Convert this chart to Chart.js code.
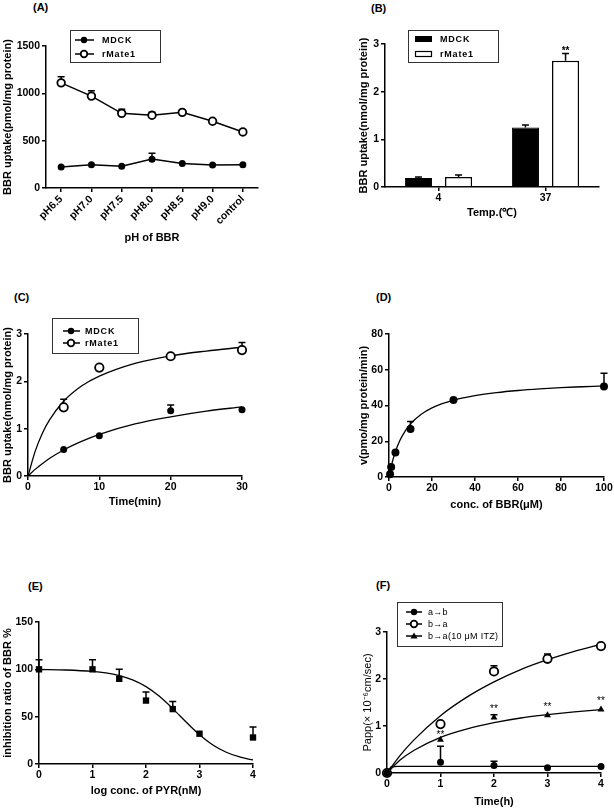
<!DOCTYPE html>
<html>
<head>
<meta charset="UTF-8">
<title>BBR uptake panels</title>
<script src="https://cdn.jsdelivr.net/npm/chart.js"></script>
<style>
  body { margin: 0; background: #fff; }
  #fig { position: relative; width: 614px; height: 809px; overflow: hidden; background: #fff;
         font-family: "Liberation Sans", Arial, sans-serif; }
  canvas { position: absolute; }
  .tag { position: absolute; font-size: 11px; line-height: 12px; font-weight: bold; color: #000; }
</style>
</head>
<body>
<div id="fig">
  <div class="tag" style="left:33px;top:1px">(A)</div>
  <div class="tag" style="left:371px;top:2px">(B)</div>
  <div class="tag" style="left:14px;top:291px">(C)</div>
  <div class="tag" style="left:376px;top:291px">(D)</div>
  <div class="tag" style="left:28px;top:580px">(E)</div>
  <div class="tag" style="left:376px;top:579px">(F)</div>
  <canvas id="chA"></canvas>
  <canvas id="chB"></canvas>
  <canvas id="chC"></canvas>
  <canvas id="chD"></canvas>
  <canvas id="chE"></canvas>
  <canvas id="chF"></canvas>
</div>
<script>
// (A) uptake vs pH
const phLabels = ['pH6.5', 'pH7.0', 'pH7.5', 'pH8.0', 'pH8.5', 'pH9.0', 'control'];
const phMdck = [221, 245, 231, 305, 259, 242, 245];
const phMdckErr = [0, 0, 0, 63, 0, 0, 0];
const phMate = [1111, 971, 789, 768, 799, 705, 592];
const phMateErr = [63, 56, 42, 31, 0, 0, 25];

// (B) uptake vs temperature
const tempLabels = ['4', '37'];
const tempMdck = [0.19, 1.25];
const tempMdckErr = [0.02, 0.05];
const tempMate = [0.21, 2.65];
const tempMateErr = [0.04, 0.15];
const tempStarAt = [null, 2.88];

// (C) uptake vs time
const timeMin = [5, 10, 20, 30];
const timeMdck = [0.56, 0.85, 1.38, 1.40];
const timeMdckErr = [0, 0, 0.12, 0];
const timeMate = [1.45, 2.29, 2.53, 2.66];
const timeMateErr = [0.17, 0, 0, 0.16];
const fitTime = [0, 1, 2, 3, 5, 7.5, 10, 15, 20, 25, 30];
const fitTimeMdck = [0, 0.14, 0.26, 0.37, 0.55, 0.73, 0.88, 1.10, 1.25, 1.37, 1.46];
const fitTimeMate = [0, 0.52, 0.90, 1.18, 1.58, 1.90, 2.11, 2.38, 2.54, 2.64, 2.72];

// (D) kinetics
const concBBR = [0.5, 1, 3, 10, 30, 100];
const velocity = [1.5, 5.6, 13.7, 26.8, 43.1, 50.6];
const velocityErr = [0, 0, 0, 4.2, 0, 7.4];
const fitConc = [0, 1, 2, 3, 5, 7.5, 10, 15, 20, 30, 40, 50, 60, 70, 80, 90, 100];
const fitVelocity = [0, 5.7, 10.4, 14.3, 20.3, 25.7, 29.7, 35.1, 38.7, 43.0, 45.5, 47.2, 48.4, 49.3, 50.0, 50.5, 51.0];

// (E) inhibition by PYR
const logPyr = [0, 1, 1.5, 2, 2.5, 3, 4];
const inhib = [100, 100, 90, 67, 58, 32, 28];
const inhibErr = [10, 10, 10, 9, 8, 0, 11];
const fitLog = [0, 0.5, 1, 1.25, 1.5, 1.75, 2, 2.25, 2.5, 2.75, 3, 3.25, 3.5, 3.75, 4];
const fitInhib = [99.8, 99.3, 97.8, 96.2, 93.4, 88.8, 81.7, 71.5, 58.5, 44.3, 30.9, 20.1, 12.4, 7.4, 4.3];

// (F) transport
const hours = [0, 1, 2, 3, 4];
const papAB = [0, 0.23, 0.16, 0.11, 0.14];
const papABErr = [0, 0.34, 0.09, 0, 0];
const papBA = [0, 1.04, 2.16, 2.43, 2.70];
const papBAErr = [0, 0, 0.12, 0.10, 0];
const papITZ = [0, 0.71, 1.18, 1.23, 1.35];
const papITZErr = [0, 0, 0.06, 0, 0];
const papStarAt = [null, 0.85, 1.40, 1.45, 1.56];
const fitHours = [0, 0.25, 0.5, 1, 1.5, 2, 2.5, 3, 3.5, 4];
const fitBA = [0, 0.38, 0.70, 1.22, 1.62, 1.94, 2.20, 2.41, 2.59, 2.74];
const fitITZ = [0, 0.28, 0.48, 0.76, 0.94, 1.07, 1.17, 1.24, 1.30, 1.35];
const fitABHours = [0, 0.08, 0.2, 4];
const fitAB = [0, 0.13, 0.14, 0.14];

const FONT = '"Liberation Sans", Arial, sans-serif';
Chart.defaults.font.family = FONT;
Chart.defaults.color = '#000';

const xy = (xs, ys) => xs.map((x, i) => ({ x: x, y: ys[i] }));

// legends drawn by hand (page coordinates)
const legends = {
  chA: { box: [70, 30, 160, 62], line: [75, 94], mx: 84, tx: 102, bold: true,
         items: [{ y: 40, text: 'MDCK', mark: 'dot' }, { y: 54, text: 'rMate1', mark: 'ring' }] },
  chB: { box: [408, 30, 498, 62], line: [415, 432], tx: 440, bold: true,
         items: [{ y: 39, text: 'MDCK', mark: 'fill' }, { y: 54, text: 'rMate1', mark: 'hollow' }] },
  chC: { box: [52, 318, 138, 353], line: [63, 80], mx: 71, tx: 85, bold: true,
         items: [{ y: 331, text: 'MDCK', mark: 'dot' }, { y: 343, text: 'rMate1', mark: 'ring' }] },
  chF: { box: [397, 602, 502, 646], line: [406, 422], mx: 414, tx: 428, bold: false,
         items: [{ y: 612, text: 'a→b', mark: 'dot' }, { y: 624, text: 'b→a', mark: 'ring' },
                 { y: 636, text: 'b→a(10 μM ITZ)', mark: 'tri' }] }
};

function drawMark(ctx, kind, x, y) {
  ctx.save();
  ctx.fillStyle = '#000';
  ctx.strokeStyle = '#000';
  ctx.beginPath();
  if (kind === 'dot') {
    ctx.arc(x, y, 3.2, 0, Math.PI * 2); ctx.fill();
  } else if (kind === 'ring') {
    ctx.lineWidth = 1.8;
    ctx.arc(x, y, 3.3, 0, Math.PI * 2);
    ctx.fillStyle = '#fff'; ctx.fill(); ctx.stroke();
  } else if (kind === 'tri') {
    ctx.moveTo(x, y - 3.6); ctx.lineTo(x + 3.6, y + 2.4); ctx.lineTo(x - 3.6, y + 2.4);
    ctx.closePath(); ctx.fill();
  }
  ctx.restore();
}

const marks = {
  id: 'marks',
  beforeDatasetsDraw(chart) {
    const ctx = chart.ctx;
    chart.data.datasets.forEach((ds, i) => {
      if (!ds.errUp) return;
      const meta = chart.getDatasetMeta(i);
      const ys = chart.scales[meta.yAxisID];
      ctx.save();
      ctx.strokeStyle = '#000';
      ctx.lineWidth = 1.5;
      meta.data.forEach((el, j) => {
        const e = ds.errUp[j];
        if (!e) return;
        const raw = ds.data[j];
        const v = typeof raw === 'object' ? raw.y : raw;
        const y0 = ys.getPixelForValue(v), y1 = ys.getPixelForValue(v + e);
        ctx.beginPath();
        ctx.moveTo(el.x, y0); ctx.lineTo(el.x, y1);
        ctx.moveTo(el.x - 3.5, y1); ctx.lineTo(el.x + 3.5, y1);
        ctx.stroke();
      });
      ctx.restore();
    });
  },
  afterDatasetsDraw(chart) {
    const ctx = chart.ctx;
    chart.data.datasets.forEach((ds, i) => {
      if (!ds.stars) return;
      const meta = chart.getDatasetMeta(i);
      const ys = chart.scales[meta.yAxisID];
      ctx.save();
      ctx.fillStyle = '#000';
      ctx.font = (ds.starBold ? 'bold ' : '') + '10px ' + FONT;
      ctx.textAlign = 'center';
      ctx.textBaseline = 'middle';
      meta.data.forEach((el, j) => {
        const s = ds.stars[j];
        if (s === null || s === undefined) return;
        ctx.fillText('**', el.x, ys.getPixelForValue(s) + 2);
      });
      ctx.restore();
    });
  },
  afterDraw(chart) {
    const lg = legends[chart.canvas.id];
    if (!lg) return;
    const ctx = chart.ctx;
    const ox = chart.canvas.offsetLeft, oy = chart.canvas.offsetTop;
    ctx.save();
    ctx.translate(-ox, -oy);
    ctx.strokeStyle = '#333';
    ctx.lineWidth = 1;
    ctx.strokeRect(lg.box[0] + 0.5, lg.box[1] + 0.5, lg.box[2] - lg.box[0], lg.box[3] - lg.box[1]);
    lg.items.forEach(it => {
      ctx.strokeStyle = '#000';
      if (it.mark === 'fill' || it.mark === 'hollow') {
        const w = lg.line[1] - lg.line[0];
        if (it.mark === 'fill') {
          ctx.fillStyle = '#000';
          ctx.fillRect(lg.line[0], it.y - 3, w, 6);
        } else {
          ctx.lineWidth = 1.2;
          ctx.strokeRect(lg.line[0] + 0.5, it.y - 2.5, w - 1, 5);
        }
      } else {
        ctx.lineWidth = 1.5;
        ctx.beginPath();
        ctx.moveTo(lg.line[0], it.y); ctx.lineTo(lg.line[1], it.y);
        ctx.stroke();
        drawMark(ctx, it.mark, lg.mx, it.y);
      }
      ctx.fillStyle = '#000';
      ctx.font = (lg.bold ? 'bold ' : '') + '9px ' + FONT;
      if ('letterSpacing' in ctx) ctx.letterSpacing = lg.bold ? '0.8px' : '0.3px';
      ctx.textAlign = 'left';
      ctx.textBaseline = 'middle';
      ctx.fillText(it.text, lg.tx, it.y + 0.5);
    });
    ctx.restore();
  }
};

function frame(id, c, plot) {
  const el = document.getElementById(id);
  el.style.left = c[0] + 'px';
  el.style.top = c[1] + 'px';
  el.width = c[2] - c[0];
  el.height = c[3] - c[1];
  return {
    el: el,
    yW: plot[0] - c[0],
    xH: c[3] - plot[3],
    padding: { left: 0, top: plot[1] - c[1], right: c[2] - plot[2], bottom: 0 }
  };
}

function axis(cfg) {
  const isX = cfg.dir === 'x';
  const s = {
    type: cfg.type || 'linear',
    position: isX ? 'bottom' : 'left',
    offset: !!cfg.offset,
    ticks: { color: '#000', font: { size: 10.5, weight: 'bold' }, padding: isX ? 1 : 2 },
    grid: { drawOnChartArea: false, drawTicks: true, tickLength: 4, color: '#000', lineWidth: 1.5, offset: false },
    border: { display: true, color: '#000', width: 1.5 },
    title: { display: true, text: cfg.title, color: '#000',
             font: { size: 11, weight: cfg.titleWeight || 'bold' }, padding: { top: 0, bottom: 0 } },
    afterFit: isX ? (sc => { sc.height = cfg.fix; }) : (sc => { sc.width = cfg.fix; })
  };
  if (s.type === 'linear') s.ticks.format = { useGrouping: false };
  if (cfg.min !== undefined) s.min = cfg.min;
  if (cfg.max !== undefined) s.max = cfg.max;
  if (cfg.step) s.ticks.stepSize = cfg.step;
  if (cfg.rotate) { s.ticks.minRotation = cfg.rotate; s.ticks.maxRotation = cfg.rotate; }
  return s;
}

function options(geo, x, y) {
  return {
    responsive: false,
    animation: false,
    layout: { padding: geo.padding },
    plugins: { legend: { display: false }, tooltip: { enabled: false } },
    scales: { x: x, y: y }
  };
}

const dot = { pointStyle: 'circle', pointRadius: 3.5, pointBackgroundColor: '#000', pointBorderColor: '#000', pointBorderWidth: 0 };
const ring = { pointStyle: 'circle', pointRadius: 3.8, pointBackgroundColor: '#fff', pointBorderColor: '#000', pointBorderWidth: 1.8 };
const curve = { showLine: true, pointRadius: 0, borderColor: '#000', borderWidth: 1.3, cubicInterpolationMode: 'monotone' };

// (A)
let g = frame('chA', [1, 20, 300, 245], [46, 46, 258, 188]);
new Chart(g.el, {
  type: 'line',
  data: {
    labels: phLabels,
    datasets: [
      Object.assign({ label: 'MDCK', data: phMdck, errUp: phMdckErr, borderColor: '#000', borderWidth: 1.5, tension: 0, clip: false }, dot),
      Object.assign({ label: 'rMate1', data: phMate, errUp: phMateErr, borderColor: '#000', borderWidth: 1.5, tension: 0, clip: false }, ring)
    ]
  },
  options: options(g,
    axis({ dir: 'x', type: 'category', offset: true, title: 'pH of BBR', fix: g.xH, rotate: 45 }),
    axis({ dir: 'y', min: 0, max: 1500, step: 500, title: 'BBR uptake(pmol/mg protein)', fix: g.yW })),
  plugins: [marks]
});

// (B)
g = frame('chB', [357, 20, 612, 220], [385, 44, 599, 187]);
new Chart(g.el, {
  type: 'bar',
  data: {
    labels: tempLabels,
    datasets: [
      { label: 'MDCK', data: tempMdck, errUp: tempMdckErr, backgroundColor: '#000', borderColor: '#000',
        borderWidth: 1, barPercentage: 0.675, categoryPercentage: 0.75 },
      { label: 'rMate1', data: tempMate, errUp: tempMateErr, stars: tempStarAt, starBold: true,
        backgroundColor: '#fff', borderColor: '#000', borderWidth: 1.5, barPercentage: 0.675, categoryPercentage: 0.75 }
    ]
  },
  options: options(g,
    axis({ dir: 'x', type: 'category', offset: true, title: 'Temp.(℃)', fix: g.xH }),
    axis({ dir: 'y', min: 0, max: 3, step: 1, title: 'BBR uptake(nmol/mg protein)', fix: g.yW })),
  plugins: [marks]
});

// (C)
g = frame('chC', [1, 305, 290, 509], [28, 334, 242, 476]);
new Chart(g.el, {
  type: 'scatter',
  data: {
    datasets: [
      Object.assign({ label: 'MDCK', data: xy(timeMin, timeMdck), errUp: timeMdckErr, clip: false }, dot),
      Object.assign({ label: 'rMate1', data: xy(timeMin, timeMate), errUp: timeMateErr, clip: false }, ring, { pointRadius: 4.2 }),
      Object.assign({ label: 'MDCK fit', data: xy(fitTime, fitTimeMdck) }, curve),
      Object.assign({ label: 'rMate1 fit', data: xy(fitTime, fitTimeMate) }, curve)
    ]
  },
  options: options(g,
    axis({ dir: 'x', min: 0, max: 30, step: 10, title: 'Time(min)', fix: g.xH }),
    axis({ dir: 'y', min: 0, max: 3, step: 1, title: 'BBR uptake(nmol/mg protein)', fix: g.yW })),
  plugins: [marks]
});

// (D)
g = frame('chD', [357, 315, 614, 512], [389, 334, 604, 477]);
new Chart(g.el, {
  type: 'scatter',
  data: {
    datasets: [
      Object.assign({ label: 'v', data: xy(concBBR, velocity), errUp: velocityErr, clip: false }, dot, { pointRadius: 4 }),
      Object.assign({ label: 'fit', data: xy(fitConc, fitVelocity) }, curve)
    ]
  },
  options: options(g,
    axis({ dir: 'x', min: 0, max: 100, step: 20, title: 'conc. of BBR(μM)', fix: g.xH }),
    axis({ dir: 'y', min: 0, max: 80, step: 20, title: 'v(pmo/mg protein/min)', fix: g.yW })),
  plugins: [marks]
});

// (E)
g = frame('chE', [1, 605, 290, 798], [39, 622, 253, 764]);
new Chart(g.el, {
  type: 'scatter',
  data: {
    datasets: [
      { label: 'inhibition', data: xy(logPyr, inhib), errUp: inhibErr, clip: false, pointStyle: 'rect',
        pointRadius: 4.5, pointBackgroundColor: '#000', pointBorderColor: '#000', pointBorderWidth: 0 },
      Object.assign({ label: 'fit', data: xy(fitLog, fitInhib) }, curve)
    ]
  },
  options: options(g,
    axis({ dir: 'x', min: 0, max: 4, step: 1, title: 'log conc. of PYR(nM)', fix: g.xH }),
    axis({ dir: 'y', min: 0, max: 150, step: 50, title: 'inhibition ratio of BBR %', fix: g.yW })),
  plugins: [marks]
});

// (F)
g = frame('chF', [361, 595, 614, 809], [387, 632, 601, 773]);
new Chart(g.el, {
  type: 'scatter',
  data: {
    datasets: [
      Object.assign({ label: 'a→b', data: xy(hours, papAB), errUp: papABErr, clip: false }, dot),
      Object.assign({ label: 'b→a', data: xy(hours, papBA), errUp: papBAErr, clip: false }, ring, { pointRadius: 4.2 }),
      { label: 'b→a(10 μM ITZ)', data: xy(hours, papITZ), errUp: papITZErr, stars: papStarAt, clip: false,
        pointStyle: 'triangle', pointRadius: 4, pointBackgroundColor: '#000', pointBorderColor: '#000', pointBorderWidth: 0 },
      Object.assign({ label: 'a→b fit', data: xy(fitABHours, fitAB) }, curve),
      Object.assign({ label: 'b→a fit', data: xy(fitHours, fitBA) }, curve),
      Object.assign({ label: 'ITZ fit', data: xy(fitHours, fitITZ) }, curve)
    ]
  },
  options: options(g,
    axis({ dir: 'x', min: 0, max: 4, step: 1, title: 'Time(h)', fix: g.xH }),
    axis({ dir: 'y', min: 0, max: 3, step: 1, title: 'Papp(× 10⁻⁶cm/sec)', fix: g.yW, titleWeight: 'normal' })),
  plugins: [marks]
});
</script>
</body>
</html>
